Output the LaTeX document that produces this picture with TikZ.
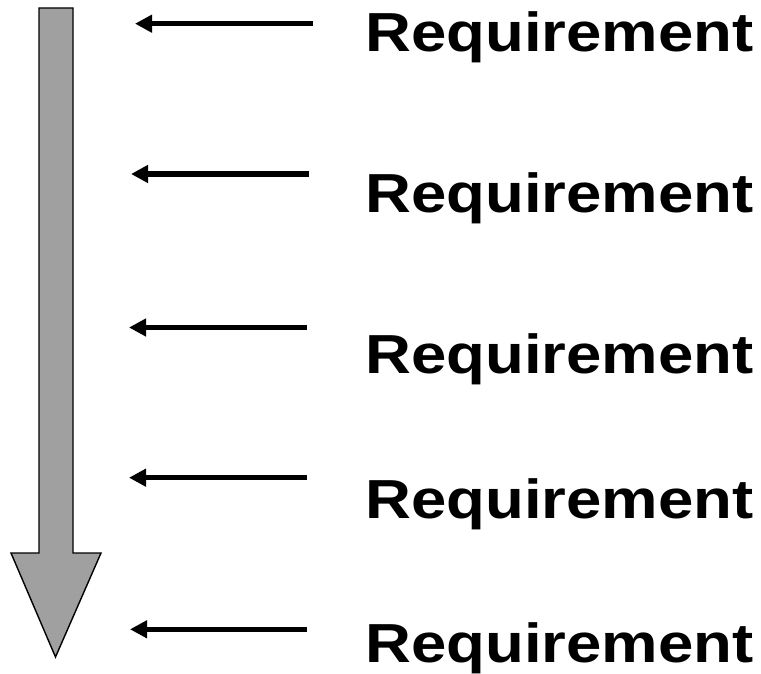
\documentclass[tikz,border=0pt]{standalone}
\usepackage{fontspec}
\setmainfont{Liberation Sans}
\usetikzlibrary{arrows.meta}
\tikzset{
  reqtext/.style={anchor=base west, inner sep=0pt, font=\bfseries\fontsize{55}{60}\selectfont},
  reqarrow/.style={line width=5.5pt, -{Triangle[length=17pt,width=17pt]}},
  bigarrow/.style={draw=black, line width=1.4pt, fill=bigfill, line join=miter}
}
\definecolor{bigfill}{HTML}{A0A0A0}
\newcommand{\reqword}{\scalebox{1.155}[1]{Requirement}}
\begin{document}
\begin{tikzpicture}[x=1pt,y=-1pt]
\useasboundingbox (0,0) rectangle (761,674);
% big downward arrow
\draw[bigarrow] (39,8) -- (73,8) -- (73,553) -- (101,553) -- (55.5,657) -- (11,553) -- (39,553) -- cycle;
% texts
\node[reqtext] (t1) at (365,52) {\reqword};
\node[reqtext] (t2) at (365,213) {\reqword};
\node[reqtext] (t3) at (365,373) {\reqword};
\node[reqtext] (t4) at (365,518) {\reqword};
\node[reqtext] (t5) at (365,662) {\reqword};
% arrow ends
\coordinate (s1) at (313,23.7); \coordinate (e1) at (135,23.7);
\coordinate (s2) at (309,174);  \coordinate (e2) at (131,174);
\coordinate (s3) at (307,327.5); \coordinate (e3) at (129,327.5);
\coordinate (s4) at (307,477.7); \coordinate (e4) at (129,477.7);
\coordinate (s5) at (307,629.3); \coordinate (e5) at (130,629.3);
\foreach \i in {1,...,5} {\draw[reqarrow] (s\i) -- (e\i);}
\end{tikzpicture}
\end{document}
